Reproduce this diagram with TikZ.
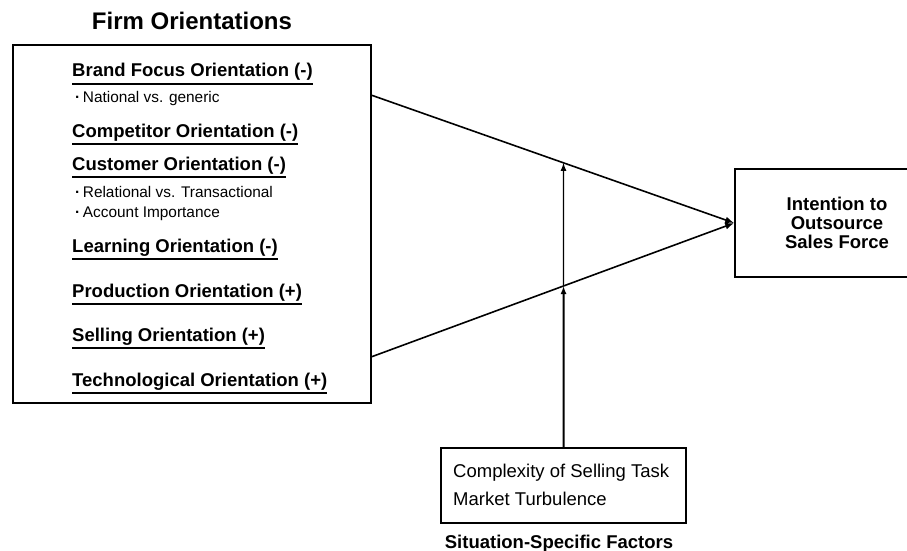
\documentclass[tikz,border=0pt]{standalone}
\usepackage{fontspec}
\setmainfont{Liberation Sans}
\usetikzlibrary{arrows.meta,calc}
\begin{document}
\begin{tikzpicture}[x=1pt,y=-1pt,
  item/.style={anchor=base west,inner sep=0pt,font=\fontsize{18.5}{20}\selectfont\bfseries},
  sub/.style={anchor=base west,inner sep=0pt,font=\fontsize{15.4}{17}\selectfont},
  uline/.style={line width=1.4pt},
  boxline/.style={draw,line width=1.6pt},
  conn/.style={line width=1.6pt,-{Latex[length=9pt,width=7pt]}}
]
\useasboundingbox (0,0) rectangle (907,551);
\clip (0,0) rectangle (907,551);
% title
\node[anchor=base,inner sep=0pt,font=\fontsize{24}{26}\selectfont\bfseries] (title) at (192,30) {Firm Orientations};
% left box
\node[boxline,minimum width=358pt,minimum height=358pt,inner sep=0pt] (fo) at (192,224) {};
% items
\foreach \nm/\yy/\txt in {b/77/Brand Focus Orientation (-),c/137/Competitor Orientation (-),cu/170/Customer Orientation (-),l/252/Learning Orientation (-),p/297/Production Orientation (+),s/341/Selling Orientation (+),t/386/Technological Orientation (+)}{
  \node[item] (\nm) at (72,\yy) {\txt};
  \draw[uline] ($(\nm.base west)+(0,7)$) -- ($(\nm.base east)+(0,7)$);
}
\node[sub] (b1) at (75,102.5) {{\bfseries ·}\,National vs. generic};
\node[sub] (cu1) at (75,197.5) {{\bfseries ·}\,Relational vs. Transactional};
\node[sub] (cu2) at (75,217.5) {{\bfseries ·}\,Account Importance};
% output box
\node[boxline,minimum width=176pt,minimum height=108pt,inner sep=0pt] (out) at (823,223) {};
\node[align=center,inner sep=0pt,font=\fontsize{18.5}{19}\selectfont\bfseries] (outt) at (837,223) {Intention to\\Outsource\\Sales Force};
% situation box
\node[boxline,minimum width=245pt,minimum height=75pt,inner sep=0pt] (sit) at (563.5,485.5) {};
\node[sub,font=\fontsize{18.5}{20}\selectfont] (s1) at (453,477.5) {Complexity of Selling Task};
\node[sub,font=\fontsize{18.5}{20}\selectfont] (s2) at (453,505.5) {Market Turbulence};
\node[anchor=base,inner sep=0pt,font=\fontsize{18.5}{20}\selectfont\bfseries] (sitl) at (559,548) {Situation-Specific Factors};
% connectors
\coordinate (u) at (371,95);
\coordinate (d) at (371,357);
\draw[conn] (u) -- (out.west);
\draw[conn] (d) -- (out.west);
\coordinate (lx) at (intersection of d--out.west and sit.north--{$(sit.north)+(0,-400)$});
\coordinate (ux) at (intersection of u--out.west and sit.north--{$(sit.north)+(0,-400)$});
\draw[line width=2pt,-{Latex[length=8pt,width=6pt]}] (sit.north) -- (lx);
\draw[line width=1.3pt,-{Latex[length=8pt,width=6pt]}] (lx) -- (ux);
\end{tikzpicture}
\end{document}
